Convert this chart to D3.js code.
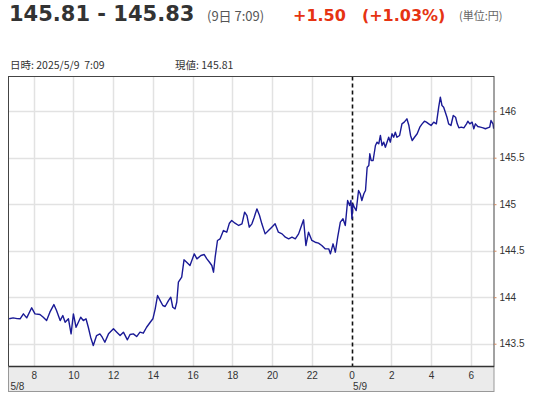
<!DOCTYPE html>
<html>
<head>
<meta charset="utf-8">
<script src="https://cdn.jsdelivr.net/npm/d3@7"></script>
<style>
  body { margin: 0; background: #fff; }
  svg { display: block; }
</style>
</head>
<body>
<svg id="chart" width="543" height="400"></svg>
<script>
// Header texts
const bidAsk = "145.81 - 145.83";
const quoteTime = "(9日 7:09)";
const change = "+1.50\u3000(+1.03%)";
const unit = "(単位:円)";
const infoDate = "日時: 2025/5/9\u00a0\u00a07:09";
const infoPrice = "現値: 145.81";

// Minutes since 2025/5/8 00:00 and the USD/JPY rate at that time
const minutes = [
  406, 418, 430, 439, 449, 459, 474, 484, 499, 509, 519, 529, 541, 549, 560, 568, 575, 585, 593, 600,
  608, 615, 622, 630, 638, 645, 652, 660, 670, 680, 687, 695, 706, 721, 731, 741, 751, 763, 771, 781,
  791, 801, 811, 821, 832, 840, 847, 854, 862, 870, 877, 887, 894, 900, 907, 912, 917, 927, 934, 942,
  952, 965, 973, 985, 995, 1003, 1011, 1018, 1023, 1028, 1035, 1043, 1053, 1063, 1071, 1078, 1088, 1099, 1109, 1117,
  1124, 1131, 1139, 1146, 1154, 1162, 1169, 1179, 1189, 1199, 1209, 1219, 1230, 1240, 1250, 1260, 1270, 1280, 1287, 1295,
  1302, 1310, 1320, 1330, 1340, 1350, 1360, 1371, 1376, 1384, 1391, 1398, 1406, 1414, 1421, 1428, 1434, 1438, 1441, 1444,
  1448, 1454, 1461, 1466, 1471, 1477, 1482, 1487, 1492, 1495, 1499, 1505, 1512, 1517, 1522, 1527, 1532, 1537, 1542, 1547,
  1552, 1557, 1562, 1567, 1572, 1577, 1585, 1592, 1599, 1607, 1613, 1618, 1623, 1630, 1638, 1646, 1653, 1660, 1666, 1673,
  1680, 1688, 1696, 1703, 1708, 1713, 1718, 1723, 1728, 1733, 1740, 1747, 1754, 1759, 1764, 1771, 1779, 1787, 1791, 1797,
  1804, 1809, 1814, 1821, 1829, 1837, 1844, 1851, 1857, 1861, 1867, 1869
];
const prices = [
  143.768, 143.778, 143.770, 143.768, 143.821, 143.778, 143.886, 143.821, 143.814, 143.785, 143.749, 143.839, 143.921, 143.857, 143.749, 143.803, 143.731, 143.768, 143.606, 143.821,
  143.677, 143.731, 143.785, 143.749, 143.768, 143.677, 143.570, 143.481, 143.588, 143.606, 143.570, 143.516, 143.606, 143.660, 143.624, 143.588, 143.624, 143.542, 143.599, 143.606,
  143.577, 143.624, 143.613, 143.677, 143.731, 143.768, 143.875, 144.018, 143.964, 143.911, 143.900, 143.964, 144.000, 143.892, 143.875, 143.946, 144.161, 144.215, 144.402, 144.376,
  144.341, 144.466, 144.412, 144.448, 144.459, 144.412, 144.376, 144.341, 144.269, 144.430, 144.610, 144.628, 144.717, 144.699, 144.796, 144.825, 144.796, 144.771, 144.789, 144.914,
  144.878, 144.753, 144.789, 144.860, 144.950, 144.878, 144.789, 144.681, 144.717, 144.753, 144.789, 144.699, 144.681, 144.645, 144.628, 144.645, 144.628, 144.681, 144.753, 144.832,
  144.556, 144.699, 144.610, 144.591, 144.581, 144.556, 144.520, 144.520, 144.466, 144.574, 144.484, 144.645, 144.807, 144.843, 144.771, 145.040, 144.986, 145.040, 144.843, 145.004,
  144.968, 144.932, 145.147, 145.112, 145.040, 145.112, 145.147, 145.398, 145.416, 145.542, 145.470, 145.470, 145.631, 145.667, 145.649, 145.739, 145.631, 145.667, 145.613, 145.667,
  145.720, 145.667, 145.757, 145.720, 145.774, 145.720, 145.739, 145.864, 145.882, 145.918, 145.846, 145.739, 145.685, 145.720, 145.757, 145.828, 145.864, 145.892, 145.882, 145.864,
  145.846, 145.882, 145.864, 146.043, 146.151, 146.061, 146.043, 145.989, 145.935, 145.864, 145.846, 145.954, 145.935, 145.864, 145.821, 145.828, 145.821, 145.864, 145.892, 145.864,
  145.882, 145.811, 145.864, 145.835, 145.828, 145.821, 145.811, 145.821, 145.828, 145.900, 145.864, 145.811
];

// Axis ticks
const yTicks = [143.5, 144, 144.5, 145, 145.5, 146];
const dayLabels = ["5/8", "5/9"];

const base = new Date(2025, 4, 8, 0, 0);
const data = minutes.map((m, i) => ({ t: d3.timeMinute.offset(base, m), v: prices[i] }));

const svg = d3.select("#chart");
const plotLeft = 8.5, plotRight = 494, plotTop = 76.5, plotBottom = 366.5, bandBottom = 391.5;

const x = d3.scaleTime()
  .domain([new Date(2025, 4, 8, 6, 44), new Date(2025, 4, 9, 7, 10)])
  .range([plotLeft, plotRight]);
const y = d3.scaleLinear().domain([143.255, 146.373]).range([plotBottom, plotTop]);

// Header
const head = svg.append("g");
head.append("text").attr("x", 9).attr("y", 21)
  .style("font", "bold 21px 'DejaVu Sans', sans-serif").attr("fill", "#333").text(bidAsk);
head.append("text").attr("x", 207).attr("y", 20.5)
  .style("font", "13px 'Noto Sans CJK JP', sans-serif").attr("fill", "#555").text(quoteTime);
head.append("text").attr("x", 293).attr("y", 21)
  .style("font", "bold 16px 'DejaVu Sans', 'Noto Sans CJK JP', sans-serif").attr("fill", "#e63312").text(change);
head.append("text").attr("x", 459).attr("y", 20)
  .style("font", "11px 'Noto Sans CJK JP', sans-serif").attr("fill", "#666").text(unit);

head.append("text").attr("x", 10).attr("y", 69)
  .style("font", "10.5px 'Noto Sans CJK JP', sans-serif").attr("fill", "#333").text(infoDate);
head.append("text").attr("x", 175).attr("y", 69)
  .style("font", "10.5px 'Noto Sans CJK JP', sans-serif").attr("fill", "#333").text(infoPrice);

// Grid
const hourTicks = d3.timeHour.every(2).range(x.domain()[0], x.domain()[1]);
const midnight = new Date(2025, 4, 9, 0, 0);

const grid = svg.append("g").attr("stroke", "#e2e2e2").attr("stroke-width", 1.5);
grid.selectAll("line.v")
  .data(hourTicks.filter(d => +d !== +midnight))
  .join("line").attr("class", "v")
  .attr("x1", d => Math.round(x(d)) + 0.5).attr("x2", d => Math.round(x(d)) + 0.5)
  .attr("y1", plotTop).attr("y2", plotBottom);
grid.selectAll("line.h")
  .data(yTicks)
  .join("line").attr("class", "h")
  .attr("x1", plotLeft).attr("x2", plotRight)
  .attr("y1", d => Math.round(y(d)) + 0.5).attr("y2", d => Math.round(y(d)) + 0.5);

// Day separator
svg.append("line")
  .attr("x1", Math.round(x(midnight)) + 0.5).attr("x2", Math.round(x(midnight)) + 0.5)
  .attr("y1", plotTop).attr("y2", plotBottom)
  .attr("stroke", "#111").attr("stroke-width", 1.6).attr("stroke-dasharray", "4,3");

// Price line
svg.append("clipPath").attr("id", "clip")
  .append("rect").attr("x", plotLeft).attr("y", plotTop)
  .attr("width", plotRight - plotLeft).attr("height", plotBottom - plotTop);

svg.append("path")
  .datum(data)
  .attr("clip-path", "url(#clip)")
  .attr("fill", "none")
  .attr("stroke", "#1a1a96")
  .attr("stroke-width", 1.4)
  .attr("stroke-linejoin", "round")
  .attr("d", d3.line().x(d => x(d.t)).y(d => y(d.v)));

// Plot frame
svg.append("rect")
  .attr("x", plotLeft).attr("y", plotTop)
  .attr("width", plotRight - plotLeft).attr("height", plotBottom - plotTop)
  .attr("fill", "none").attr("stroke", "#444").attr("stroke-width", 1);

// X axis band
svg.append("rect")
  .attr("x", plotLeft).attr("y", plotBottom)
  .attr("width", plotRight - plotLeft).attr("height", bandBottom - plotBottom)
  .attr("fill", "#ebebeb").attr("stroke", "#999");
svg.append("line")
  .attr("x1", plotLeft).attr("x2", plotRight).attr("y1", plotBottom).attr("y2", plotBottom)
  .attr("stroke", "#333").attr("stroke-width", 1.5);

const xAxis = svg.append("g")
  .attr("transform", `translate(0,${plotBottom})`)
  .call(d3.axisBottom(x).tickValues(hourTicks).tickSize(0).tickPadding(8)
    .tickFormat(d3.timeFormat("%-H")));
xAxis.select(".domain").remove();
xAxis.selectAll("text").attr("fill", "#333").attr("dy", "0.45em")
  .style("font", "10px 'Liberation Sans', Arial, sans-serif");

svg.append("g").selectAll("text")
  .data(dayLabels)
  .join("text")
  .attr("x", (d, i) => i === 0 ? plotLeft + 2 : x(midnight) + 1.5)
  .attr("y", 389.5)
  .style("font", "10px 'Liberation Sans', Arial, sans-serif")
  .attr("fill", "#333")
  .text(d => d);

// Y axis (right)
const yAxis = svg.append("g")
  .attr("transform", `translate(${plotRight},0)`)
  .call(d3.axisRight(y).tickValues(yTicks).tickSize(2.5).tickPadding(3).tickFormat(d => String(d)));
yAxis.select(".domain").remove();
yAxis.selectAll("line").attr("stroke", "#d08a60");
yAxis.selectAll("text").attr("fill", "#333")
  .style("font", "10px 'Liberation Sans', Arial, sans-serif");
</script>
</body>
</html>
